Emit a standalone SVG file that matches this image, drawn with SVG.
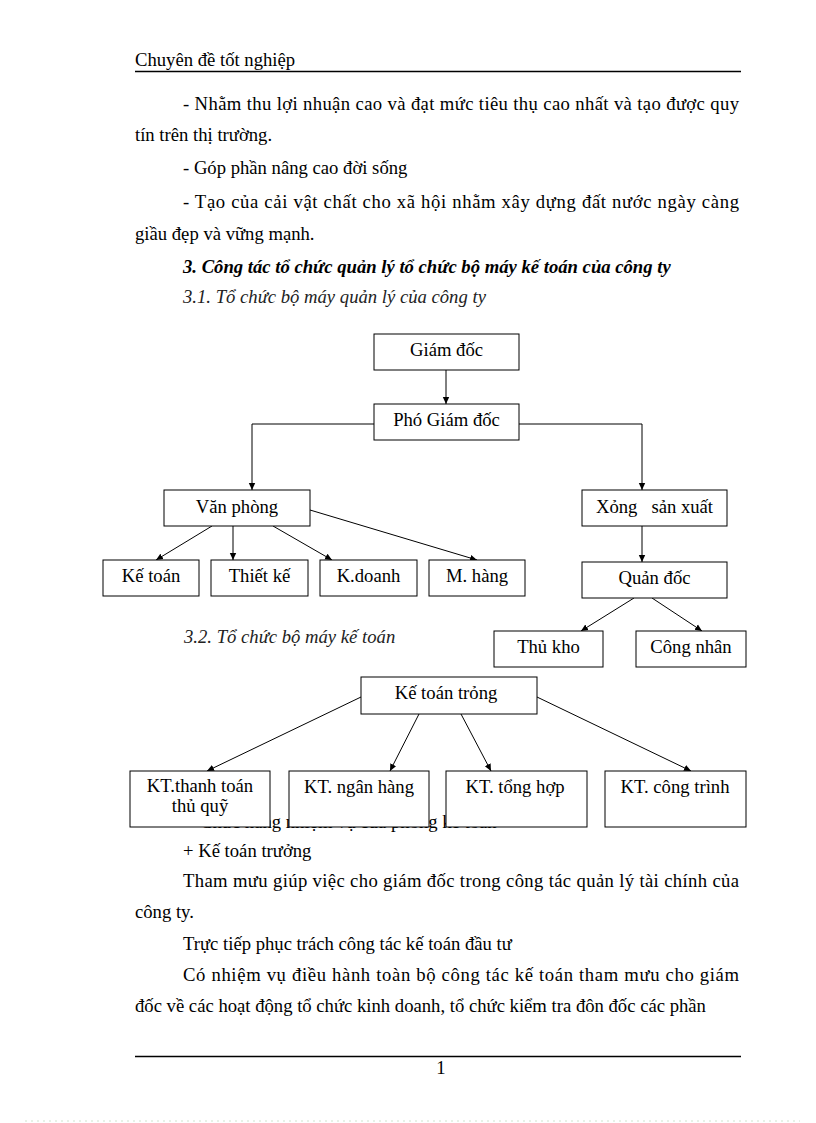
<svg xmlns="http://www.w3.org/2000/svg" width="816" height="1123" viewBox="0 0 816 1123">
<defs>
<style>
text{font-family:"Liberation Serif","Times New Roman",serif;font-size:18.67px;fill:#000}
.c{text-anchor:middle}
.bi{font-weight:bold;font-style:italic}
.it{font-style:italic;fill:#222}
.box{fill:#fff;stroke:#000;stroke-width:1}
.ln{fill:none;stroke:#000;stroke-width:1}
.pre{white-space:pre}
</style>
<marker id="ah" markerUnits="userSpaceOnUse" markerWidth="8" markerHeight="8" refX="7" refY="4" orient="auto">
<path d="M0,0.8 L7,4 L0,7.2 Z" fill="#000"/>
</marker>
</defs>
<rect width="816" height="1123" fill="#fff"/>

<g id="page-text">
<text x="135" y="66">Chuyên đề tốt nghiệp</text>
<line x1="135" y1="71.5" x2="741" y2="71.5" stroke="#000" stroke-width="1.3"/>
<text x="183" y="110" textLength="556" lengthAdjust="spacing">- Nhằm thu lợi nhuận cao và đạt mức tiêu thụ cao nhất và tạo được quy</text>
<text x="135" y="141">tín trên thị trường.</text>
<text x="183" y="174">- Góp phần nâng cao đời sống</text>
<text x="183" y="208" textLength="556" lengthAdjust="spacing">- Tạo của cải vật chất cho xã hội nhằm xây dựng đất nước ngày càng</text>
<text x="135" y="240">giầu đẹp và vững mạnh.</text>
<text x="183" y="273" class="bi">3. Công tác tổ chức quản lý tổ chức bộ máy kế toán của công ty</text>
<text x="183" y="303" class="it">3.1. Tổ chức bộ máy quản lý của công ty</text>
<text x="184" y="643" class="it">3.2. Tổ chức bộ máy kế toán</text>
<text x="200" y="828">Chức năng nhiệm vụ của phòng kế toán</text>
<text x="183" y="857">+ Kế toán trưởng</text>
<text x="183" y="887" textLength="556" lengthAdjust="spacing">Tham mưu giúp việc cho giám đốc trong công tác quản lý tài chính của</text>
<text x="135" y="918">công ty.</text>
<text x="183" y="950">Trực tiếp phục trách công tác kế toán đầu tư</text>
<text x="183" y="981" textLength="556" lengthAdjust="spacing">Có nhiệm vụ điều hành toàn bộ công tác kế toán tham mưu cho giám</text>
<text x="135" y="1012">đốc về các hoạt động tổ chức kinh doanh, tổ chức kiểm tra đôn đốc các phần</text>
<line x1="135" y1="1056.5" x2="741" y2="1056.5" stroke="#000" stroke-width="1.3"/>
<text x="441" y="1074" class="c">1</text>
<line x1="25" y1="1121" x2="800" y2="1121" stroke="#cfe3cf" stroke-width="1" stroke-dasharray="2,4"/>
</g>

<g id="connectors">
<line class="ln" x1="446" y1="370" x2="446" y2="404" marker-end="url(#ah)"/>
<polyline class="ln" points="374,424 252,424 252,490" marker-end="url(#ah)"/>
<polyline class="ln" points="519,424 642,424 642,490" marker-end="url(#ah)"/>
<line class="ln" x1="212" y1="526" x2="156" y2="560" marker-end="url(#ah)"/>
<line class="ln" x1="233" y1="526" x2="233" y2="560" marker-end="url(#ah)"/>
<line class="ln" x1="273" y1="526" x2="332" y2="560" marker-end="url(#ah)"/>
<line class="ln" x1="310" y1="510" x2="477" y2="560" marker-end="url(#ah)"/>
<line class="ln" x1="642" y1="526" x2="642" y2="562" marker-end="url(#ah)"/>
<line class="ln" x1="634" y1="598" x2="581" y2="631" marker-end="url(#ah)"/>
<line class="ln" x1="652" y1="598" x2="702" y2="631" marker-end="url(#ah)"/>
<line class="ln" x1="361" y1="697" x2="207" y2="771" marker-end="url(#ah)"/>
<line class="ln" x1="419" y1="714" x2="390" y2="771" marker-end="url(#ah)"/>
<line class="ln" x1="461" y1="714" x2="491" y2="771" marker-end="url(#ah)"/>
<line class="ln" x1="537" y1="697" x2="691" y2="771" marker-end="url(#ah)"/>
</g>

<g id="giam-doc"><rect class="box" x="374" y="334" width="145" height="36"/><text class="c" x="446.5" y="356">Giám đốc</text></g>
<g id="pho-giam-doc"><rect class="box" x="374" y="404" width="145" height="36"/><text class="c" x="446.5" y="426">Phó Giám đốc</text></g>
<g id="van-phong"><rect class="box" x="164" y="490" width="146" height="36"/><text class="c" x="237" y="513">Văn phòng</text></g>
<g id="xuong-san-xuat"><rect class="box" x="582" y="490" width="145" height="36"/><text class="c pre" x="654.5" y="513">Xỏng   sản xuất</text></g>
<g id="ke-toan"><rect class="box" x="103" y="560" width="96" height="36"/><text class="c" x="151" y="582">Kế toán</text></g>
<g id="thiet-ke"><rect class="box" x="211" y="560" width="97" height="36"/><text class="c" x="259.5" y="582">Thiết kế</text></g>
<g id="k-doanh"><rect class="box" x="320" y="560" width="97" height="36"/><text class="c" x="368.5" y="582">K.doanh</text></g>
<g id="m-hang"><rect class="box" x="429" y="560" width="96" height="36"/><text class="c" x="477" y="582">M. hàng</text></g>
<g id="quan-doc"><rect class="box" x="582" y="562" width="145" height="36"/><text class="c" x="654.5" y="584">Quản đốc</text></g>
<g id="thu-kho"><rect class="box" x="494" y="631" width="109" height="36"/><text class="c" x="548.5" y="653">Thủ kho</text></g>
<g id="cong-nhan"><rect class="box" x="636" y="631" width="110" height="36"/><text class="c" x="691" y="653">Công nhân</text></g>
<g id="ke-toan-truong"><rect class="box" x="361" y="677" width="176" height="37"/><text class="c" x="446" y="699">Kế toán trỏng</text></g>
<g id="kt-thanh-toan"><rect class="box" x="130" y="771" width="140" height="56"/><text class="c" x="200" y="792">KT.thanh toán</text><text class="c" x="200" y="812">thủ quỹ</text></g>
<g id="kt-ngan-hang"><rect class="box" x="289" y="771" width="140" height="56"/><text class="c" x="359" y="793">KT. ngân hàng</text></g>
<g id="kt-tong-hop"><rect class="box" x="446" y="771" width="141" height="56"/><text class="c" x="515" y="793">KT. tổng hợp</text></g>
<g id="kt-cong-trinh"><rect class="box" x="605" y="771" width="141" height="56"/><text class="c" x="675" y="793">KT. công trình</text></g>
</svg>
